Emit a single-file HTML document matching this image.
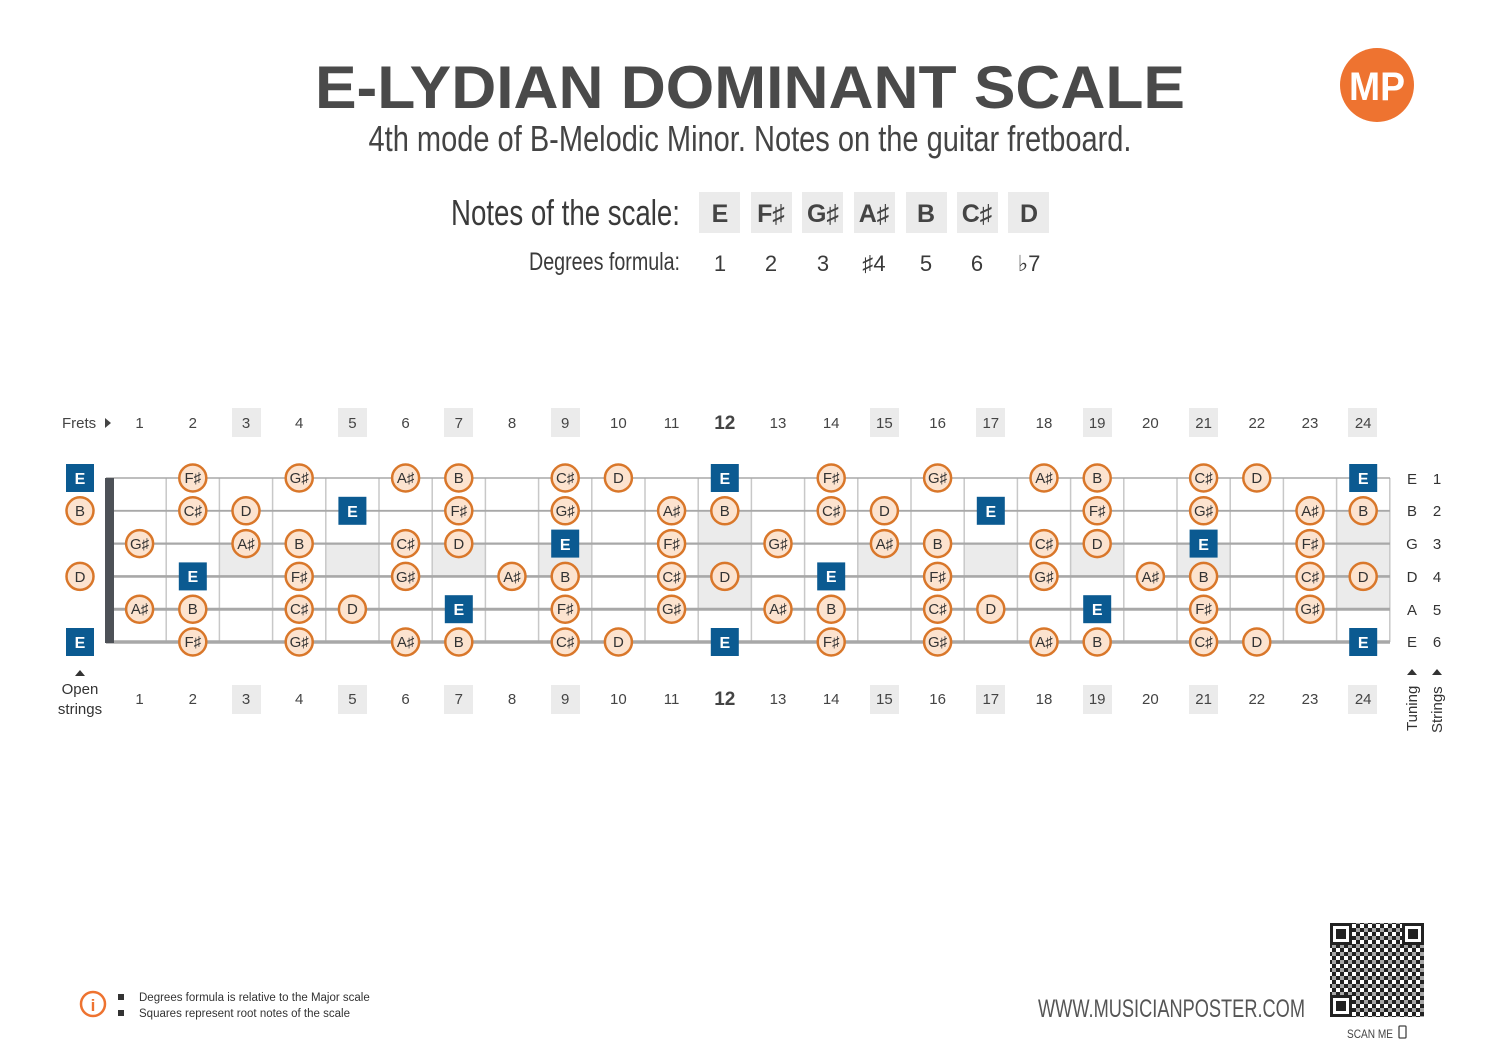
<!DOCTYPE html>
<html><head><meta charset="utf-8"><style>
html,body{margin:0;padding:0;background:#fff;}
svg{display:block;}
text{font-family:"Liberation Sans","DejaVu Sans",sans-serif;}
.n{font-size:15px;fill:#333;text-anchor:middle;}
.w{font-size:16px;fill:#fff;text-anchor:middle;font-weight:bold;}
.f{font-size:15px;fill:#444;text-anchor:middle;}
</style></head><body>
<svg width="1500" height="1061" viewBox="0 0 1500 1061" xmlns="http://www.w3.org/2000/svg">
<defs>
<symbol id="c" overflow="visible"><circle cx="0" cy="0" r="13.5" fill="#fce3cf" stroke="#d9772a" stroke-width="2.5"/></symbol>
<symbol id="s" overflow="visible"><rect x="-14" y="-14" width="28" height="28" fill="#0b5a91"/></symbol>
<pattern id="qr" width="8" height="8" patternUnits="userSpaceOnUse"><rect width="8" height="8" fill="#fff"/><rect x="0" y="0" width="4" height="4" fill="#222"/><rect x="4" y="4" width="4" height="4" fill="#222"/><rect x="4" y="0" width="4" height="4" fill="#222" opacity="0.4"/></pattern>
</defs>

<!-- Title -->
<text x="750" y="108" text-anchor="middle" font-size="60" font-weight="bold" fill="#4a4a4a" textLength="870" lengthAdjust="spacingAndGlyphs">E-LYDIAN DOMINANT SCALE</text>
<text x="750" y="151" text-anchor="middle" font-size="36" fill="#444" textLength="763" lengthAdjust="spacingAndGlyphs">4th mode of B-Melodic Minor. Notes on the guitar fretboard.</text>

<!-- Logo -->
<circle cx="1377" cy="85" r="37" fill="#ee7330"/>
<text x="1377" y="100" text-anchor="middle" font-size="40" font-weight="bold" fill="#fff" textLength="56" lengthAdjust="spacingAndGlyphs">MP</text>

<!-- Notes of the scale -->
<text x="680" y="225" text-anchor="end" font-size="36" fill="#3a3a3a" textLength="229" lengthAdjust="spacingAndGlyphs">Notes of the scale:</text>
<g fill="#ebebeb">
<rect x="699" y="192" width="41" height="41"/><rect x="751" y="192" width="41" height="41"/><rect x="802" y="192" width="41" height="41"/><rect x="854" y="192" width="41" height="41"/><rect x="906" y="192" width="41" height="41"/><rect x="957" y="192" width="41" height="41"/><rect x="1008" y="192" width="41" height="41"/>
</g>
<g font-size="25" font-weight="bold" fill="#444" text-anchor="middle">
<text x="720" y="222">E</text><text x="771" y="222">F♯</text><text x="823" y="222">G♯</text><text x="874" y="222">A♯</text><text x="926" y="222">B</text><text x="977" y="222">C♯</text><text x="1029" y="222">D</text>
</g>
<text x="680" y="270" text-anchor="end" font-size="25" fill="#3a3a3a" textLength="151" lengthAdjust="spacingAndGlyphs">Degrees formula:</text>
<g font-size="22" fill="#3a3a3a" text-anchor="middle">
<text x="720" y="271">1</text><text x="771" y="271">2</text><text x="823" y="271">3</text><text x="874" y="271">♯4</text><text x="926" y="271">5</text><text x="977" y="271">6</text><text x="1029" y="271">♭7</text>
</g>

<!-- Fret number boxes -->
<g fill="#ebebeb">
<rect x="232" y="408" width="29" height="29"/><rect x="338" y="408" width="29" height="29"/><rect x="444" y="408" width="29" height="29"/><rect x="551" y="408" width="29" height="29"/><rect x="870" y="408" width="29" height="29"/><rect x="976" y="408" width="29" height="29"/><rect x="1083" y="408" width="29" height="29"/><rect x="1189" y="408" width="29" height="29"/><rect x="1348" y="408" width="29" height="29"/>
<rect x="232" y="685" width="29" height="29"/><rect x="338" y="685" width="29" height="29"/><rect x="444" y="685" width="29" height="29"/><rect x="551" y="685" width="29" height="29"/><rect x="870" y="685" width="29" height="29"/><rect x="976" y="685" width="29" height="29"/><rect x="1083" y="685" width="29" height="29"/><rect x="1189" y="685" width="29" height="29"/><rect x="1348" y="685" width="29" height="29"/>
</g>
<text x="62" y="428" font-size="15" fill="#444">Frets</text>
<polygon points="105,418 111,423 105,428" fill="#444"/>
<g class="f">
<text x="139.6" y="428">1</text><text x="192.8" y="428">2</text><text x="246" y="428">3</text><text x="299.2" y="428">4</text><text x="352.4" y="428">5</text><text x="405.6" y="428">6</text><text x="458.8" y="428">7</text><text x="512" y="428">8</text><text x="565.2" y="428">9</text><text x="618.4" y="428">10</text><text x="671.6" y="428">11</text><text x="724.8" y="429" font-size="19" font-weight="bold">12</text><text x="778" y="428">13</text><text x="831.2" y="428">14</text><text x="884.4" y="428">15</text><text x="937.6" y="428">16</text><text x="990.8" y="428">17</text><text x="1044" y="428">18</text><text x="1097.2" y="428">19</text><text x="1150.4" y="428">20</text><text x="1203.6" y="428">21</text><text x="1256.8" y="428">22</text><text x="1310" y="428">23</text><text x="1363.2" y="428">24</text>
<text x="139.6" y="704">1</text><text x="192.8" y="704">2</text><text x="246" y="704">3</text><text x="299.2" y="704">4</text><text x="352.4" y="704">5</text><text x="405.6" y="704">6</text><text x="458.8" y="704">7</text><text x="512" y="704">8</text><text x="565.2" y="704">9</text><text x="618.4" y="704">10</text><text x="671.6" y="704">11</text><text x="724.8" y="705" font-size="19" font-weight="bold">12</text><text x="778" y="704">13</text><text x="831.2" y="704">14</text><text x="884.4" y="704">15</text><text x="937.6" y="704">16</text><text x="990.8" y="704">17</text><text x="1044" y="704">18</text><text x="1097.2" y="704">19</text><text x="1150.4" y="704">20</text><text x="1203.6" y="704">21</text><text x="1256.8" y="704">22</text><text x="1310" y="704">23</text><text x="1363.2" y="704">24</text>
</g>

<!-- Inlay shading -->
<g fill="#ebebeb">
<rect x="219.4" y="543.6" width="53.2" height="32.8"/><rect x="325.8" y="543.6" width="53.2" height="32.8"/><rect x="432.2" y="543.6" width="53.2" height="32.8"/><rect x="538.6" y="543.6" width="53.2" height="32.8"/>
<rect x="698.2" y="510.8" width="53.2" height="98.4"/>
<rect x="857.8" y="543.6" width="53.2" height="32.8"/><rect x="964.2" y="543.6" width="53.2" height="32.8"/><rect x="1070.6" y="543.6" width="53.2" height="32.8"/><rect x="1177" y="543.6" width="53.2" height="32.8"/>
<rect x="1336.6" y="510.8" width="53.2" height="98.4"/>
</g>
<!-- Fret wires -->
<g stroke="#c8c8c8" stroke-width="1.5">
<line x1="166.2" y1="478" x2="166.2" y2="642"/><line x1="219.4" y1="478" x2="219.4" y2="642"/><line x1="272.6" y1="478" x2="272.6" y2="642"/><line x1="325.8" y1="478" x2="325.8" y2="642"/><line x1="379" y1="478" x2="379" y2="642"/><line x1="432.2" y1="478" x2="432.2" y2="642"/><line x1="485.4" y1="478" x2="485.4" y2="642"/><line x1="538.6" y1="478" x2="538.6" y2="642"/><line x1="591.8" y1="478" x2="591.8" y2="642"/><line x1="645" y1="478" x2="645" y2="642"/><line x1="698.2" y1="478" x2="698.2" y2="642"/><line x1="751.4" y1="478" x2="751.4" y2="642"/><line x1="804.6" y1="478" x2="804.6" y2="642"/><line x1="857.8" y1="478" x2="857.8" y2="642"/><line x1="911" y1="478" x2="911" y2="642"/><line x1="964.2" y1="478" x2="964.2" y2="642"/><line x1="1017.4" y1="478" x2="1017.4" y2="642"/><line x1="1070.6" y1="478" x2="1070.6" y2="642"/><line x1="1123.8" y1="478" x2="1123.8" y2="642"/><line x1="1177" y1="478" x2="1177" y2="642"/><line x1="1230.2" y1="478" x2="1230.2" y2="642"/><line x1="1283.4" y1="478" x2="1283.4" y2="642"/><line x1="1336.6" y1="478" x2="1336.6" y2="642"/><line x1="1389.8" y1="478" x2="1389.8" y2="642"/>
</g>
<!-- Strings -->
<g stroke="#a8a8a8">
<line x1="106" y1="478" x2="1390" y2="478" stroke-width="1.5"/>
<line x1="106" y1="510.8" x2="1390" y2="510.8" stroke-width="1.8"/>
<line x1="106" y1="543.6" x2="1390" y2="543.6" stroke-width="2.2"/>
<line x1="106" y1="576.4" x2="1390" y2="576.4" stroke-width="2.6"/>
<line x1="106" y1="609.2" x2="1390" y2="609.2" stroke-width="3"/>
<line x1="106" y1="642" x2="1390" y2="642" stroke-width="3.4"/>
</g>
<rect x="105" y="478" width="9" height="165" fill="#4d5157"/>

<!-- Open strings -->
<use href="#s" x="80" y="478"/><text class="w" x="80" y="484">E</text>
<use href="#c" x="80" y="510.8"/><text class="n" x="80" y="516">B</text>
<use href="#c" x="80" y="576.4"/><text class="n" x="80" y="582">D</text>
<use href="#s" x="80" y="642"/><text class="w" x="80" y="648">E</text>
<polygon points="75,676 80,670 85,676" fill="#333"/>
<text x="80" y="694" font-size="15" fill="#333" text-anchor="middle">Open</text>
<text x="80" y="714" font-size="15" fill="#333" text-anchor="middle">strings</text>

<!-- String 1 (E) y=478 -->
<g>
<use href="#c" x="192.8" y="478"/><text class="n" x="192.8" y="483">F♯</text>
<use href="#c" x="299.2" y="478"/><text class="n" x="299.2" y="483">G♯</text>
<use href="#c" x="405.6" y="478"/><text class="n" x="405.6" y="483">A♯</text>
<use href="#c" x="458.8" y="478"/><text class="n" x="458.8" y="483">B</text>
<use href="#c" x="565.2" y="478"/><text class="n" x="565.2" y="483">C♯</text>
<use href="#c" x="618.4" y="478"/><text class="n" x="618.4" y="483">D</text>
<use href="#s" x="724.8" y="478"/><text class="w" x="724.8" y="484">E</text>
<use href="#c" x="831.2" y="478"/><text class="n" x="831.2" y="483">F♯</text>
<use href="#c" x="937.6" y="478"/><text class="n" x="937.6" y="483">G♯</text>
<use href="#c" x="1044" y="478"/><text class="n" x="1044" y="483">A♯</text>
<use href="#c" x="1097.2" y="478"/><text class="n" x="1097.2" y="483">B</text>
<use href="#c" x="1203.6" y="478"/><text class="n" x="1203.6" y="483">C♯</text>
<use href="#c" x="1256.8" y="478"/><text class="n" x="1256.8" y="483">D</text>
<use href="#s" x="1363.2" y="478"/><text class="w" x="1363.2" y="484">E</text>
</g>
<!-- String 2 (B) y=510.8 -->
<g>
<use href="#c" x="192.8" y="510.8"/><text class="n" x="192.8" y="516">C♯</text>
<use href="#c" x="246" y="510.8"/><text class="n" x="246" y="516">D</text>
<use href="#s" x="352.4" y="510.8"/><text class="w" x="352.4" y="517">E</text>
<use href="#c" x="458.8" y="510.8"/><text class="n" x="458.8" y="516">F♯</text>
<use href="#c" x="565.2" y="510.8"/><text class="n" x="565.2" y="516">G♯</text>
<use href="#c" x="671.6" y="510.8"/><text class="n" x="671.6" y="516">A♯</text>
<use href="#c" x="724.8" y="510.8"/><text class="n" x="724.8" y="516">B</text>
<use href="#c" x="831.2" y="510.8"/><text class="n" x="831.2" y="516">C♯</text>
<use href="#c" x="884.4" y="510.8"/><text class="n" x="884.4" y="516">D</text>
<use href="#s" x="990.8" y="510.8"/><text class="w" x="990.8" y="517">E</text>
<use href="#c" x="1097.2" y="510.8"/><text class="n" x="1097.2" y="516">F♯</text>
<use href="#c" x="1203.6" y="510.8"/><text class="n" x="1203.6" y="516">G♯</text>
<use href="#c" x="1310" y="510.8"/><text class="n" x="1310" y="516">A♯</text>
<use href="#c" x="1363.2" y="510.8"/><text class="n" x="1363.2" y="516">B</text>
</g>
<!-- String 3 (G) y=543.6 -->
<g>
<use href="#c" x="139.6" y="543.6"/><text class="n" x="139.6" y="549">G♯</text>
<use href="#c" x="246" y="543.6"/><text class="n" x="246" y="549">A♯</text>
<use href="#c" x="299.2" y="543.6"/><text class="n" x="299.2" y="549">B</text>
<use href="#c" x="405.6" y="543.6"/><text class="n" x="405.6" y="549">C♯</text>
<use href="#c" x="458.8" y="543.6"/><text class="n" x="458.8" y="549">D</text>
<use href="#s" x="565.2" y="543.6"/><text class="w" x="565.2" y="550">E</text>
<use href="#c" x="671.6" y="543.6"/><text class="n" x="671.6" y="549">F♯</text>
<use href="#c" x="778" y="543.6"/><text class="n" x="778" y="549">G♯</text>
<use href="#c" x="884.4" y="543.6"/><text class="n" x="884.4" y="549">A♯</text>
<use href="#c" x="937.6" y="543.6"/><text class="n" x="937.6" y="549">B</text>
<use href="#c" x="1044" y="543.6"/><text class="n" x="1044" y="549">C♯</text>
<use href="#c" x="1097.2" y="543.6"/><text class="n" x="1097.2" y="549">D</text>
<use href="#s" x="1203.6" y="543.6"/><text class="w" x="1203.6" y="550">E</text>
<use href="#c" x="1310" y="543.6"/><text class="n" x="1310" y="549">F♯</text>
</g>
<!-- String 4 (D) y=576.4 -->
<g>
<use href="#s" x="192.8" y="576.4"/><text class="w" x="192.8" y="582">E</text>
<use href="#c" x="299.2" y="576.4"/><text class="n" x="299.2" y="582">F♯</text>
<use href="#c" x="405.6" y="576.4"/><text class="n" x="405.6" y="582">G♯</text>
<use href="#c" x="512" y="576.4"/><text class="n" x="512" y="582">A♯</text>
<use href="#c" x="565.2" y="576.4"/><text class="n" x="565.2" y="582">B</text>
<use href="#c" x="671.6" y="576.4"/><text class="n" x="671.6" y="582">C♯</text>
<use href="#c" x="724.8" y="576.4"/><text class="n" x="724.8" y="582">D</text>
<use href="#s" x="831.2" y="576.4"/><text class="w" x="831.2" y="582">E</text>
<use href="#c" x="937.6" y="576.4"/><text class="n" x="937.6" y="582">F♯</text>
<use href="#c" x="1044" y="576.4"/><text class="n" x="1044" y="582">G♯</text>
<use href="#c" x="1150.4" y="576.4"/><text class="n" x="1150.4" y="582">A♯</text>
<use href="#c" x="1203.6" y="576.4"/><text class="n" x="1203.6" y="582">B</text>
<use href="#c" x="1310" y="576.4"/><text class="n" x="1310" y="582">C♯</text>
<use href="#c" x="1363.2" y="576.4"/><text class="n" x="1363.2" y="582">D</text>
</g>
<!-- String 5 (A) y=609.2 -->
<g>
<use href="#c" x="139.6" y="609.2"/><text class="n" x="139.6" y="614">A♯</text>
<use href="#c" x="192.8" y="609.2"/><text class="n" x="192.8" y="614">B</text>
<use href="#c" x="299.2" y="609.2"/><text class="n" x="299.2" y="614">C♯</text>
<use href="#c" x="352.4" y="609.2"/><text class="n" x="352.4" y="614">D</text>
<use href="#s" x="458.8" y="609.2"/><text class="w" x="458.8" y="615">E</text>
<use href="#c" x="565.2" y="609.2"/><text class="n" x="565.2" y="614">F♯</text>
<use href="#c" x="671.6" y="609.2"/><text class="n" x="671.6" y="614">G♯</text>
<use href="#c" x="778" y="609.2"/><text class="n" x="778" y="614">A♯</text>
<use href="#c" x="831.2" y="609.2"/><text class="n" x="831.2" y="614">B</text>
<use href="#c" x="937.6" y="609.2"/><text class="n" x="937.6" y="614">C♯</text>
<use href="#c" x="990.8" y="609.2"/><text class="n" x="990.8" y="614">D</text>
<use href="#s" x="1097.2" y="609.2"/><text class="w" x="1097.2" y="615">E</text>
<use href="#c" x="1203.6" y="609.2"/><text class="n" x="1203.6" y="614">F♯</text>
<use href="#c" x="1310" y="609.2"/><text class="n" x="1310" y="614">G♯</text>
</g>
<!-- String 6 (E) y=642 -->
<g>
<use href="#c" x="192.8" y="642"/><text class="n" x="192.8" y="647">F♯</text>
<use href="#c" x="299.2" y="642"/><text class="n" x="299.2" y="647">G♯</text>
<use href="#c" x="405.6" y="642"/><text class="n" x="405.6" y="647">A♯</text>
<use href="#c" x="458.8" y="642"/><text class="n" x="458.8" y="647">B</text>
<use href="#c" x="565.2" y="642"/><text class="n" x="565.2" y="647">C♯</text>
<use href="#c" x="618.4" y="642"/><text class="n" x="618.4" y="647">D</text>
<use href="#s" x="724.8" y="642"/><text class="w" x="724.8" y="648">E</text>
<use href="#c" x="831.2" y="642"/><text class="n" x="831.2" y="647">F♯</text>
<use href="#c" x="937.6" y="642"/><text class="n" x="937.6" y="647">G♯</text>
<use href="#c" x="1044" y="642"/><text class="n" x="1044" y="647">A♯</text>
<use href="#c" x="1097.2" y="642"/><text class="n" x="1097.2" y="647">B</text>
<use href="#c" x="1203.6" y="642"/><text class="n" x="1203.6" y="647">C♯</text>
<use href="#c" x="1256.8" y="642"/><text class="n" x="1256.8" y="647">D</text>
<use href="#s" x="1363.2" y="642"/><text class="w" x="1363.2" y="648">E</text>
</g>

<!-- Tuning / strings -->
<g font-size="15" fill="#333" text-anchor="middle">
<text x="1412" y="484">E</text><text x="1437" y="484">1</text>
<text x="1412" y="516">B</text><text x="1437" y="516">2</text>
<text x="1412" y="549">G</text><text x="1437" y="549">3</text>
<text x="1412" y="582">D</text><text x="1437" y="582">4</text>
<text x="1412" y="615">A</text><text x="1437" y="615">5</text>
<text x="1412" y="647">E</text><text x="1437" y="647">6</text>
</g>
<polygon points="1407,675 1412,669 1417,675" fill="#333"/>
<polygon points="1432,675 1437,669 1442,675" fill="#333"/>
<text transform="translate(1417,731) rotate(-90)" font-size="15" fill="#333">Tuning</text>
<text transform="translate(1442,733) rotate(-90)" font-size="15" fill="#333">Strings</text>

<!-- Footer -->
<circle cx="93" cy="1004" r="12" fill="none" stroke="#ee7330" stroke-width="2.5"/>
<text x="93" y="1011" text-anchor="middle" font-size="17" font-weight="bold" fill="#ee7330">i</text>
<rect x="118" y="994" width="6" height="6" fill="#333"/>
<rect x="118" y="1010" width="6" height="6" fill="#333"/>
<text x="139" y="1001" font-size="11.5" fill="#333">Degrees formula is relative to the Major scale</text>
<text x="139" y="1017" font-size="11.5" fill="#333">Squares represent root notes of the scale</text>
<text x="1038" y="1017" font-size="25" fill="#555" textLength="267" lengthAdjust="spacingAndGlyphs">WWW.MUSICIANPOSTER.COM</text>

<!-- QR -->
<rect x="1330" y="923" width="94" height="94" fill="url(#qr)"/>
<g fill="#222">
<rect x="1330" y="923" width="22" height="22"/><rect x="1402" y="923" width="22" height="22"/><rect x="1330" y="995" width="22" height="22"/>
</g>
<g fill="#fff">
<rect x="1333" y="926" width="16" height="16"/><rect x="1405" y="926" width="16" height="16"/><rect x="1333" y="998" width="16" height="16"/>
</g>
<g fill="#222">
<rect x="1336" y="929" width="10" height="10"/><rect x="1408" y="929" width="10" height="10"/><rect x="1336" y="1001" width="10" height="10"/>
</g>
<text x="1347" y="1038" font-size="12" fill="#444" textLength="46" lengthAdjust="spacingAndGlyphs">SCAN ME</text>
<rect x="1399" y="1026" width="7" height="12" rx="1" fill="none" stroke="#444" stroke-width="1.3"/>
</svg>
</body></html>
